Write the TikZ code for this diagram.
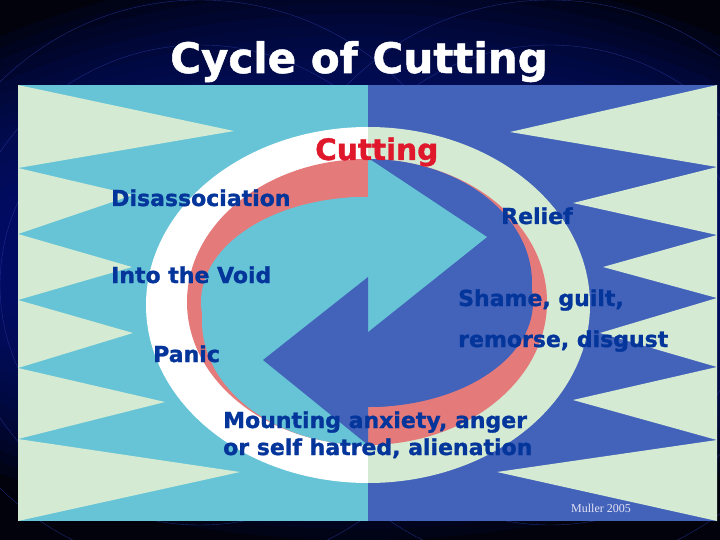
\documentclass[tikz,border=0pt]{standalone}
\usepackage{fontspec}
\setmainfont{DejaVu Sans}
\newfontfamily\blackfont[FakeBold=1.2]{DejaVu Sans Bold}
\newfontfamily\creditfont{Liberation Serif}

\definecolor{skycyan}{HTML}{66C4D6}
\definecolor{panelblue}{HTML}{4362BA}
\definecolor{palegreen}{HTML}{D4EAD3}
\definecolor{salmon}{HTML}{E57A7A}
\definecolor{labelblue}{HTML}{03359A}
\definecolor{cutred}{HTML}{E0182C}
\definecolor{creditwhite}{HTML}{E4E4F4}
\definecolor{nightsky}{HTML}{01020C}
\definecolor{navyglow}{HTML}{0C1680}
\definecolor{arcblue}{HTML}{2A3AA0}

\begin{document}
\begin{tikzpicture}[x=1pt,y=-1pt,
    lbl/.style={font=\blackfont\fontsize{22}{26}\selectfont, text=labelblue, anchor=base west, inner sep=0pt}]

  \useasboundingbox (0,0) rectangle (720,540);

  % night background with faint arcs
  \begin{scope}
    \clip (0,0) rectangle (720,540);
    \fill[nightsky] (0,0) rectangle (720,540);
    \foreach \i in {0,...,15}
      \fill[navyglow, opacity=.09] (360,255) ellipse[x radius=560-12*\i, y radius=285-11*\i];
    \foreach \r in {200,240,285} {
      \draw[arcblue, line width=.4pt, opacity=.7] (200,285) circle[radius=\r];
      \draw[arcblue, line width=.4pt, opacity=.7] (550,285) circle[radius=\r];
    }
  \end{scope}

  % two halves of the panel
  \fill[skycyan] (18,85) rectangle (368,521);
  \fill[panelblue] (368,85) rectangle (717,521);

  % zig-zag teeth
  \foreach \ya/\tx/\ty/\yb in {85/234/131/168, 168/133/195/234, 234/132/267/300,
                               300/133/333/368, 368/165/402/439, 439/240/472/521}
    \fill[palegreen] (18,\ya) -- (\tx,\ty) -- (18,\yb) -- cycle;
  \foreach \ya/\tx/\ty/\yb in {85/510/132/167, 167/573/203/235, 235/603/267/298,
                               298/600/333/367, 367/573/400/440, 440/497/472/521}
    \fill[palegreen] (717,\ya) -- (\tx,\ty) -- (717,\yb) -- cycle;

  % outer ring
  \begin{scope}
    \clip (0,0) rectangle (368,540);
    \fill[white] (368,305) ellipse[x radius=222, y radius=178];
  \end{scope}
  \begin{scope}
    \clip (368,0) rectangle (720,540);
    \fill[palegreen] (368,305) ellipse[x radius=222, y radius=178];
  \end{scope}

  % red band
  \fill[salmon] (367,302) ellipse[x radius=180, y radius=143];

  % the two arrows
  \begin{scope}
    \clip (0,0) rectangle (368,540);
    \fill[skycyan] (366,302) ellipse[x radius=165, y radius=105];
    \fill[skycyan] (366,321) ellipse[x radius=164, y radius=124];
  \end{scope}
  \begin{scope}
    \clip (368,0) rectangle (720,540);
    \fill[panelblue] (368,302) ellipse[x radius=165, y radius=105];
    \fill[panelblue] (368,283) ellipse[x radius=164, y radius=124];
  \end{scope}
  \fill[skycyan] (368,158) -- (487,237) -- (368,332) -- cycle;
  \fill[panelblue] (368,277) -- (263,360) -- (368,445) -- cycle;

  % texts
  \node[anchor=base west, inner sep=0pt, text=white, font=\blackfont\fontsize{42}{48}\selectfont] (title) at (170,73) {Cycle of Cutting};
  \node[anchor=base west, inner sep=0pt, text=cutred, font=\blackfont\fontsize{29.5}{34}\selectfont] (cutting) at (315,160) {Cutting};

  \begin{scope}[every node/.style={lbl}]
    \node (dis)    at (111,206) {Disassociation};
    \node (void)   at (111,283) {Into the Void};
    \node (panic)  at (153,362) {Panic};
    \node (relief) at (501,224) {Relief};
    \node (shame)  at (458,306) {Shame, guilt,};
    \node (remo)   at (458,347) {remorse, disgust};
    \node (mount)  at (223,428) {Mounting anxiety, anger};
    \node (hatred) at (223,455) {or self hatred, alienation};
  \end{scope}

  \node[anchor=base west, inner sep=0pt, text=creditwhite, font=\creditfont\fontsize{12}{14}\selectfont] (credit) at (571,512) {Muller 2005};

\end{tikzpicture}
\end{document}
